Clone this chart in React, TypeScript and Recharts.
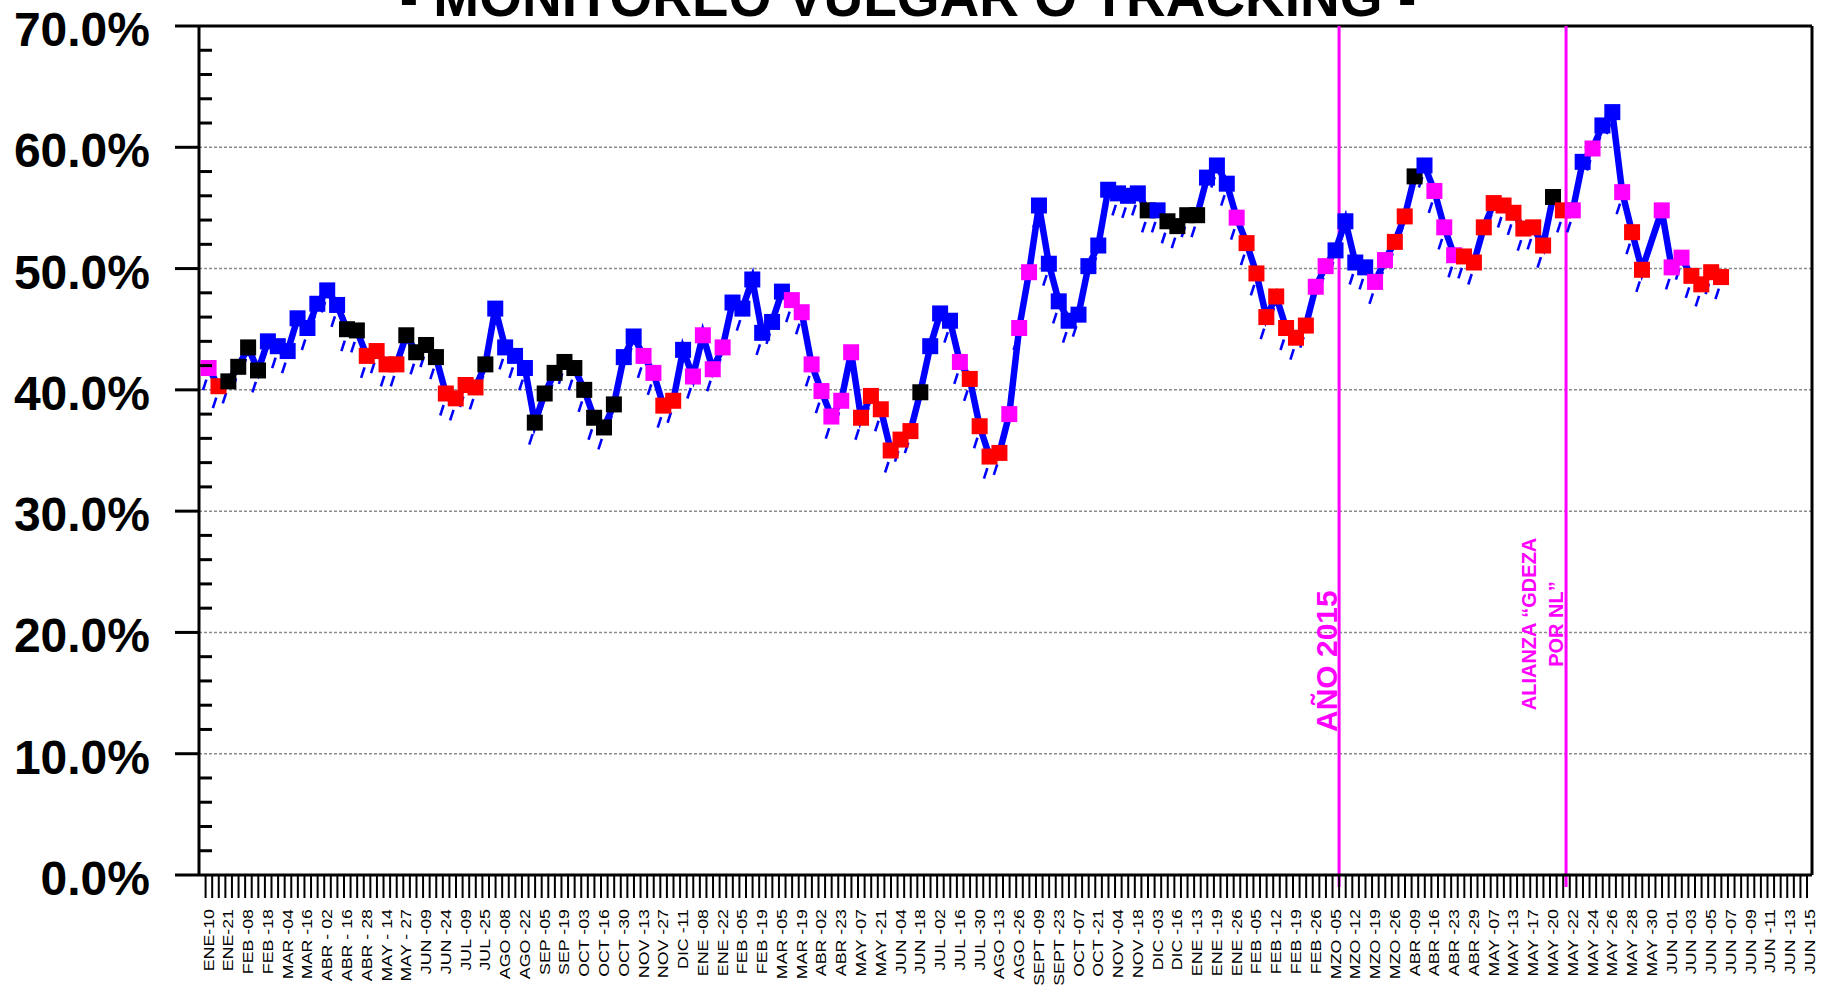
import React from 'react';
import { LineChart, Line, XAxis, YAxis, ReferenceLine } from 'recharts';

const TITLE = '- MONITOREO VULGAR O TRACKING -';

const xLabels = [
  'ENE-10', 'ENE-21', 'FEB -08', 'FEB -18', 'MAR -04', 'MAR -16', 'ABR - 02', 'ABR - 16', 'ABR - 28', 'MAY - 14',
  'MAY - 27', 'JUN -09', 'JUN -24', 'JUL -09', 'JUL -25', 'AGO -08', 'AGO -22', 'SEP -05', 'SEP -19', 'OCT -03',
  'OCT -16', 'OCT -30', 'NOV -13', 'NOV -27', 'DIC -11', 'ENE -08', 'ENE -22', 'FEB -05', 'FEB -19', 'MAR -05',
  'MAR -19', 'ABR -02', 'ABR -23', 'MAY -07', 'MAY -21', 'JUN -04', 'JUN -18', 'JUL -02', 'JUL -16', 'JUL -30',
  'AGO -13', 'AGO -26', 'SEPT -09', 'SEPT -23', 'OCT -07', 'OCT -21', 'NOV -04', 'NOV -18', 'DIC -03', 'DIC -16',
  'ENE -13', 'ENE -19', 'ENE -26', 'FEB -05', 'FEB -12', 'FEB -19', 'FEB -26', 'MZO -05', 'MZO -12', 'MZO -19',
  'MZO -26', 'ABR -09', 'ABR -16', 'ABR -23', 'ABR -29', 'MAY -07', 'MAY -13', 'MAY -17', 'MAY -20', 'MAY -22',
  'MAY -24', 'MAY -26', 'MAY -28', 'MAY -30', 'JUN -01', 'JUN -03', 'JUN -05', 'JUN -07', 'JUN -09', 'JUN -11',
  'JUN -13', 'JUN -15',
];

const pollValues: (number | null)[] = [
  41.8, 40.3, 40.7, 41.9, 43.5, 41.6, 44.0, 43.6, 43.2, 45.9,
  45.1, 47.1, 48.2, 47.0, 45.0, 44.9, 42.8, 43.2, 42.1, 42.1,
  44.5, 43.1, 43.7, 42.7, 39.7, 39.3, 40.4, 40.2, 42.1, 46.7,
  43.5, 42.8, 41.8, 37.3, 39.7, 41.4, 42.3, 41.8, 40.0, 37.7,
  36.9, 38.8, 42.7, 44.4, 42.8, 41.4, 38.7, 39.1, 43.3, 41.1,
  44.5, 41.7, 43.5, 47.2, 46.7, 49.1, 44.7, 45.6, 48.1, 47.4,
  46.4, 42.1, 39.9, 37.8, 39.1, 43.1, 37.7, 39.5, 38.4, 35.0,
  35.9, 36.6, 39.8, 43.6, 46.3, 45.7, 42.3, 40.9, 37.0, 34.5,
  34.8, 38.0, 45.1, 49.7, 55.2, 50.4, 47.3, 45.7, 46.2, 50.2,
  51.9, 56.5, 56.2, 56.0, 56.2, 54.8, 54.8, 53.9, 53.5, 54.4,
  54.4, 57.5, 58.5, 57.0, 54.2, 52.1, 49.6, 46.0, 47.7, 45.1,
  44.3, 45.3, 48.5, 50.2, 51.5, 53.9, 50.5, 50.1, 48.9, 50.7,
  52.2, 54.3, 57.6, 58.5, 56.4, 53.4, 51.1, 51.0, 50.5, 53.4,
  55.4, 55.2, 54.6, 53.3, 53.4, 51.9, 55.9, 54.8, 54.8, 58.8,
  59.9, 61.8, 62.9, 56.3, 53.0, 49.9, null, 54.8, 50.1, 50.9,
  49.4, 48.7, 49.7, 49.3,
];

// B = blue, K = black, R = red, M = magenta
const pointColors = [
  'M', 'R', 'K', 'K', 'K', 'K', 'B', 'B', 'B', 'B',
  'B', 'B', 'B', 'B', 'K', 'K', 'R', 'R', 'R', 'R',
  'K', 'K', 'K', 'K', 'R', 'R', 'R', 'R', 'K', 'B',
  'B', 'B', 'B', 'K', 'K', 'K', 'K', 'K', 'K', 'K',
  'K', 'K', 'B', 'B', 'M', 'M', 'R', 'R', 'B', 'M',
  'M', 'M', 'M', 'B', 'B', 'B', 'B', 'B', 'B', 'M',
  'M', 'M', 'M', 'M', 'M', 'M', 'R', 'R', 'R', 'R',
  'R', 'R', 'K', 'B', 'B', 'B', 'M', 'R', 'R', 'R',
  'R', 'M', 'M', 'M', 'B', 'B', 'B', 'B', 'B', 'B',
  'B', 'B', 'B', 'B', 'B', 'K', 'B', 'K', 'K', 'K',
  'K', 'B', 'B', 'B', 'M', 'R', 'R', 'R', 'R', 'R',
  'R', 'R', 'M', 'M', 'B', 'B', 'B', 'B', 'M', 'M',
  'R', 'R', 'K', 'B', 'M', 'M', 'M', 'R', 'R', 'R',
  'R', 'R', 'R', 'R', 'R', 'R', 'K', 'R', 'M', 'B',
  'M', 'B', 'B', 'M', 'R', 'R', '-', 'M', 'M', 'M',
  'R', 'R', 'R', 'R',
];

const gridValues = [10, 20, 30, 40, 50, 60];
const yMajor = [0, 10, 20, 30, 40, 50, 60, 70];
const markerLines = [
  { x: 114.36, lines: ['AÑO 2015'] },
  { x: 137.32, lines: ['ALIANZA “GDEZA', 'POR NL”'] },
];

const COLORS: Record<string, string> = { B: '#0000FF', K: '#000000', R: '#FF0000', M: '#FF00FF' };
const FONT = "'Liberation Sans', Arial, Helvetica, sans-serif";

const W = 1837;
const H = 988;
const PLOT_LEFT = 199;
const PLOT_TOP = 26;
const PLOT_RIGHT = 1812;
const PLOT_BOTTOM = 875;
const X_MIN = -0.97;
const X_MAX = 162.2;

const data = pollValues.map((v, i) => ({ i, v, c: pointColors[i] }));

const labelTicks = xLabels.map((_, k) => 2 * k);
const labelAt = new Map<number, string>(labelTicks.map((t, k) => [t, xLabels[k]]));
const minorTicks = Array.from({ length: 244 }, (_, k) => +(X_MIN + ((k + 1) * 2) / 3).toFixed(4));
const allXTicks = [...minorTicks, ...labelTicks].sort((a, b) => a - b);
const yTicks = Array.from({ length: 36 }, (_, k) => k * 2);

const XTick = (props: any) => {
  const { x, payload } = props;
  const v = payload.value;
  const lab = labelAt.get(v);
  if (lab !== undefined) {
    return (
      <text
        transform={`translate(${x + 5},${PLOT_BOTTOM + 34}) rotate(-90) scale(1.27,1)`}
        textAnchor="end"
        fontSize={14}
        fontFamily={FONT}
        fill="#000"
      >
        {lab}
      </text>
    );
  }
  return <line x1={x} x2={x} y1={PLOT_BOTTOM} y2={PLOT_BOTTOM + 23} stroke="#000" strokeWidth={2} />;
};

const YTick = (props: any) => {
  const { y, payload } = props;
  const v = payload.value;
  if (yMajor.includes(v)) {
    return (
      <g>
        <line x1={PLOT_LEFT - 24} x2={PLOT_LEFT} y1={y} y2={y} stroke="#000" strokeWidth={3} />
        <text x={150} y={y + 20} textAnchor="end" fontSize={48} fontWeight="bold" fontFamily={FONT} fill="#000">
          {v.toFixed(1)}%
        </text>
      </g>
    );
  }
  return <line x1={PLOT_LEFT} x2={PLOT_LEFT + 13} y1={y} y2={y} stroke="#000" strokeWidth={3} />;
};

const SquareDot = (props: any) => {
  const { cx, cy, index, payload } = props;
  if (cx == null || cy == null || payload == null || payload.v == null) return <g key={`s-${index}`} />;
  return <rect key={`s-${index}`} x={cx - 8} y={cy - 8} width={16} height={16} fill={COLORS[payload.c] || '#0000FF'} />;
};

const DashDot = (props: any) => {
  const { cx, cy, index, payload } = props;
  if (cx == null || cy == null || payload == null || payload.v == null) return <g key={`d-${index}`} />;
  return (
    <line
      key={`d-${index}`}
      x1={cx - 5.6}
      y1={cy + 22}
      x2={cx - 2.2}
      y2={cy + 11.5}
      stroke="#0000FF"
      strokeWidth={2.6}
    />
  );
};

const TitleLabel = () => (
  <text x={908} y={15.5} textAnchor="middle" fontSize={55} fontWeight="bold" fontFamily={FONT} fill="#000">
    {TITLE}
  </text>
);

const MarkerShape = (p: any) => {
  const top = Math.min(p.y1, p.y2);
  const bottom = Math.max(p.y1, p.y2) + 12;
  return <line x1={p.x1} x2={p.x2} y1={top} y2={bottom} stroke="#FF00FF" strokeWidth={3} />;
};

const makeMarkerLabel = (lines: string[]) => (p: any) => {
  const lx = p && p.viewBox ? p.viewBox.x : 0;
  if (lines.length === 1) {
    return (
      <text
        transform={`translate(${lx - 2},732) rotate(-90)`}
        textAnchor="start"
        fontSize={30}
        fontWeight="bold"
        fontFamily={FONT}
        fill="#FF00FF"
      >
        {lines[0]}
      </text>
    );
  }
  return (
    <g>
      {lines.map((ln, k) => (
        <text
          key={k}
          transform={`translate(${lx - 30 + k * 27},624) rotate(-90)`}
          textAnchor="middle"
          fontSize={20}
          fontWeight="bold"
          fontFamily={FONT}
          fill="#FF00FF"
        >
          {ln}
        </text>
      ))}
    </g>
  );
};

export default function App() {
  return (
    <div style={{ position: 'absolute', left: 0, top: 0, width: W, height: H, background: '#fff' }}>
      <LineChart
        width={W}
        height={H}
        data={data}
        margin={{ top: PLOT_TOP, right: W - PLOT_RIGHT, bottom: 0, left: 0 }}
      >
        <XAxis
          type="number"
          dataKey="i"
          domain={[X_MIN, X_MAX]}
          allowDataOverflow
          ticks={allXTicks}
          interval={0}
          tick={<XTick />}
          tickLine={false}
          axisLine={{ stroke: '#000', strokeWidth: 3 }}
          height={H - PLOT_BOTTOM}
        />
        <YAxis
          type="number"
          domain={[0, 70]}
          allowDataOverflow
          ticks={yTicks}
          interval={0}
          tick={<YTick />}
          tickLine={false}
          axisLine={{ stroke: '#000', strokeWidth: 3 }}
          width={PLOT_LEFT}
        />
        {gridValues.map((g) => (
          <ReferenceLine key={`g-${g}`} y={g} stroke="#8a8a8a" strokeWidth={1.5} strokeDasharray="3 2" />
        ))}
        <ReferenceLine y={70} stroke="#000" strokeWidth={3} ifOverflow="visible" label={TitleLabel} />
        <ReferenceLine x={X_MAX} stroke="#000" strokeWidth={3} ifOverflow="visible" />
        {markerLines.map((m, k) => (
          <ReferenceLine
            key={`m-${k}`}
            x={m.x}
            stroke="#FF00FF"
            strokeWidth={3}
            shape={MarkerShape}
            label={makeMarkerLabel(m.lines)}
          />
        ))}
        <Line
          dataKey="v"
          stroke="none"
          dot={DashDot}
          activeDot={false}
          connectNulls
          isAnimationActive={false}
          legendType="none"
        />
        <Line
          dataKey="v"
          stroke="#0000FF"
          strokeWidth={6.5}
          dot={SquareDot}
          activeDot={false}
          connectNulls
          isAnimationActive={false}
        />
      </LineChart>
    </div>
  );
}
